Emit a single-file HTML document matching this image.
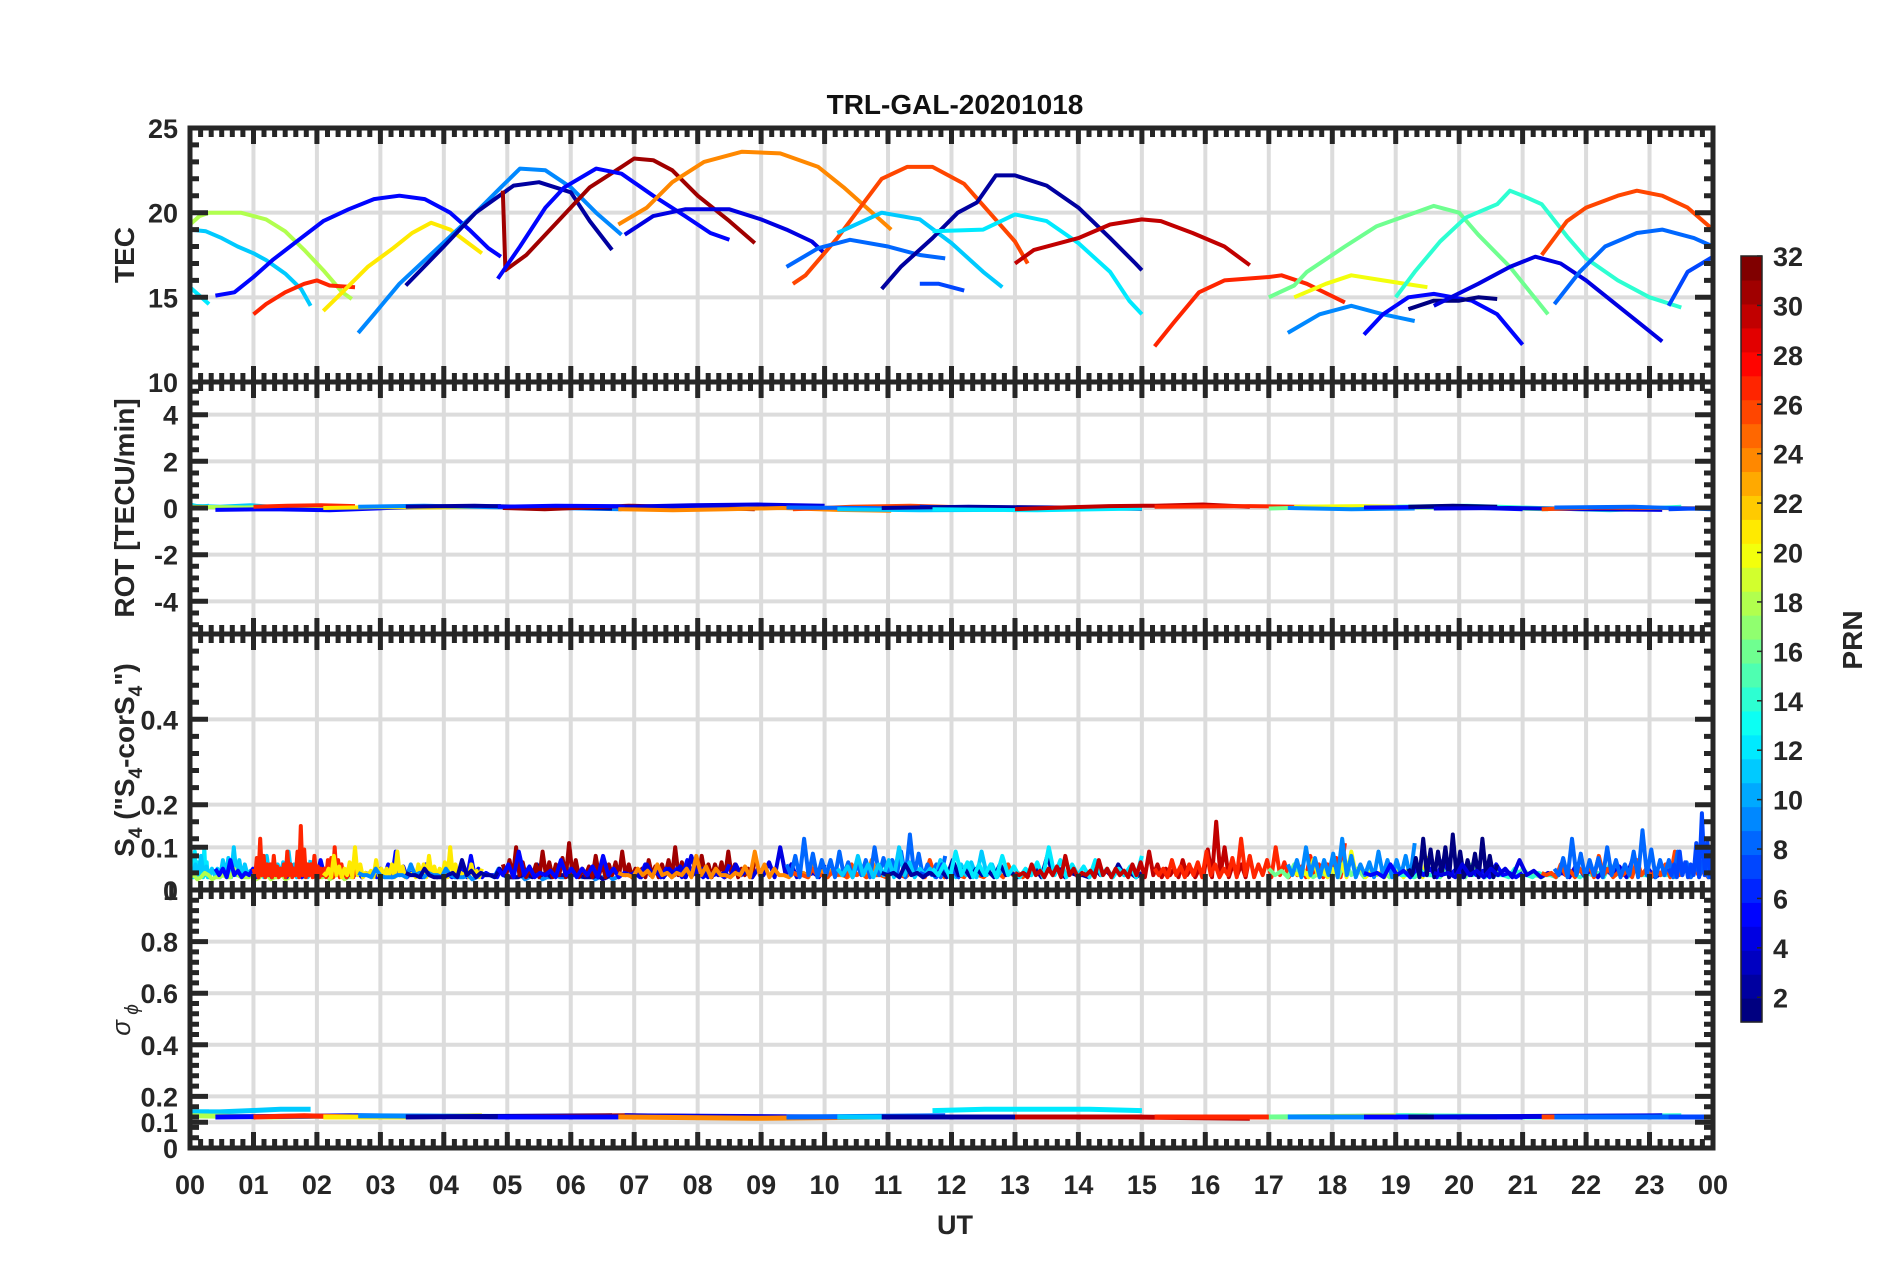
<!DOCTYPE html>
<html><head><meta charset="utf-8"><title>TRL-GAL-20201018</title>
<style>
html,body{margin:0;padding:0;background:#fff;}
svg{display:block;font-family:"Liberation Sans",Arial,sans-serif;}
</style></head>
<body>
<svg id="chart" width="1902" height="1272" viewBox="0 0 1902 1272" xmlns="http://www.w3.org/2000/svg">
<text x="955" y="114" text-anchor="middle" font-size="28" font-weight="bold" fill="#111">TRL-GAL-20201018</text>
<text x="955" y="1234" text-anchor="middle" font-size="27" font-weight="bold" fill="#262626">UT</text>
<text transform="translate(134,255) rotate(-90)" text-anchor="middle" font-size="28" font-weight="bold" fill="#262626">TEC</text>
<text transform="translate(134,508) rotate(-90)" text-anchor="middle" font-size="28" font-weight="bold" fill="#262626">ROT [TECU/min]</text>
<text transform="translate(134,760) rotate(-90)" text-anchor="middle" font-size="28" font-weight="bold" fill="#262626">S<tspan font-size="19" dy="8">4</tspan><tspan dy="-8"> ("S</tspan><tspan font-size="19" dy="8">4</tspan><tspan dy="-8">-corS</tspan><tspan font-size="19" dy="8">4</tspan><tspan dy="-8">")</tspan></text>
<text transform="translate(130,1020) rotate(-90)" text-anchor="middle" font-size="26" font-style="italic" fill="#262626">σ<tspan font-size="19" dy="8"> ϕ</tspan></text>
<text transform="translate(1862,640) rotate(-90)" text-anchor="middle" font-size="28" font-weight="bold" fill="#262626">PRN</text>
<g id="layer"></g>
</svg>
<script>
// ---- data ----
const hourLabels = ["00","01","02","03","04","05","06","07","08","09","10","11","12","13","14","15","16","17","18","19","20","21","22","23","00"];
const arcPrn = [12,11,18,5,27,21,9,2,31,5,4,24,26,8,11,7,2,12,30,27,16,20,9,14,5,1,4,26,8,7];
const tecArcs = [
 [[0,15.6],[0.15,15.1],[0.3,14.6]],
 [[0,19.0],[0.25,18.9],[0.5,18.5],[0.75,18.0],[1.0,17.6],[1.2,17.2],[1.5,16.4],[1.75,15.5],[1.9,14.5]],
 [[0,19.3],[0.15,19.8],[0.3,20.0],[0.8,20.0],[1.2,19.6],[1.5,18.9],[1.8,17.8],[2.1,16.6],[2.4,15.3],[2.55,14.9]],
 [[0.4,15.1],[0.7,15.3],[1.0,16.2],[1.3,17.2],[1.75,18.5],[2.1,19.5],[2.5,20.2],[2.9,20.8],[3.3,21.0],[3.7,20.8],[4.1,20.0],[4.4,19.0],[4.7,17.9],[4.9,17.4]],
 [[1.0,14.0],[1.2,14.6],[1.5,15.3],[1.8,15.8],[2.0,16.0],[2.2,15.7],[2.6,15.6]],
 [[2.1,14.2],[2.4,15.3],[2.8,16.8],[3.2,17.9],[3.5,18.8],[3.8,19.4],[4.1,19.0],[4.35,18.3],[4.6,17.6]],
 [[2.65,12.9],[2.9,14.0],[3.3,15.8],[3.7,17.2],[4.1,18.6],[4.5,20.0],[4.9,21.5],[5.2,22.6],[5.6,22.5],[6.0,21.5],[6.4,20.0],[6.8,18.7]],
 [[3.4,15.7],[4.0,18.0],[4.5,20.0],[5.1,21.6],[5.5,21.8],[6.0,21.2],[6.3,19.5],[6.65,17.8]],
 [[4.93,21.3],[4.97,16.6],[5.3,17.5],[5.8,19.5],[6.3,21.5],[6.8,22.7],[7.0,23.2],[7.3,23.1],[7.6,22.5],[8.0,21.0],[8.5,19.5],[8.9,18.2]],
 [[4.85,16.1],[5.2,18.0],[5.6,20.3],[5.9,21.5],[6.4,22.6],[6.8,22.3],[7.3,21.0],[7.8,19.8],[8.2,18.8],[8.5,18.4]],
 [[6.85,18.7],[7.3,19.8],[7.8,20.2],[8.5,20.2],[9.0,19.6],[9.4,19.0],[9.8,18.3],[10.0,17.6]],
 [[6.75,19.3],[7.2,20.3],[7.6,21.8],[8.1,23.0],[8.7,23.6],[9.3,23.5],[9.9,22.7],[10.3,21.5],[10.6,20.5],[11.05,19.0]],
 [[9.5,15.8],[9.7,16.3],[10.2,18.5],[10.6,20.5],[10.9,22.0],[11.3,22.7],[11.7,22.7],[12.2,21.7],[12.6,20.0],[13.0,18.3],[13.2,17.0]],
 [[9.4,16.8],[9.9,17.9],[10.4,18.4],[11.0,18.0],[11.5,17.5],[11.9,17.3]],
 [[10.2,18.8],[10.9,20.0],[11.5,19.6],[12.0,18.2],[12.5,16.5],[12.8,15.6]],
 [[11.5,15.8],[11.8,15.8],[12.2,15.4]],
 [[10.9,15.5],[11.2,16.8],[11.7,18.5],[12.1,20.0],[12.4,20.6],[12.7,22.2],[13.0,22.2],[13.5,21.6],[14.0,20.3],[14.5,18.5],[14.9,17.0],[15.0,16.6]],
 [[11.7,18.9],[12.5,19.0],[13.0,19.9],[13.5,19.5],[14.0,18.2],[14.5,16.5],[14.8,14.8],[15.0,14.0]],
 [[13.0,17.0],[13.3,17.8],[14.0,18.5],[14.5,19.3],[15.0,19.6],[15.3,19.5],[15.8,18.8],[16.3,18.0],[16.7,16.9]],
 [[15.2,12.1],[15.5,13.5],[15.9,15.3],[16.3,16.0],[17.0,16.2],[17.2,16.3],[17.6,15.8],[18.2,14.7]],
 [[17.0,15.0],[17.4,15.7],[17.6,16.5],[18.2,18.0],[18.7,19.2],[19.3,20.0],[19.6,20.4],[20.0,20.0],[20.3,18.7],[20.8,16.8],[21.4,14.0]],
 [[17.4,15.0],[17.9,15.8],[18.3,16.3],[18.8,16.0],[19.5,15.6]],
 [[17.3,12.9],[17.8,14.0],[18.3,14.5],[18.8,14.0],[19.3,13.6]],
 [[19.0,15.0],[19.3,16.5],[19.7,18.3],[20.1,19.7],[20.6,20.5],[20.8,21.3],[21.0,21.0],[21.3,20.5],[21.7,18.6],[22.0,17.3],[22.5,16.0],[23.0,15.0],[23.5,14.4]],
 [[18.5,12.8],[18.8,14.0],[19.2,15.0],[19.6,15.2],[20.2,14.8],[20.6,14.0],[21.0,12.2]],
 [[19.2,14.3],[19.6,14.8],[20.0,14.8],[20.3,15.0],[20.6,14.9]],
 [[19.6,14.5],[20.3,15.8],[20.8,16.8],[21.2,17.4],[21.6,17.0],[22.0,16.0],[22.5,14.5],[23.0,13.0],[23.2,12.4]],
 [[21.3,17.5],[21.7,19.5],[22.0,20.3],[22.5,21.0],[22.8,21.3],[23.2,21.0],[23.6,20.3],[24,19.0]],
 [[21.5,14.6],[21.9,16.5],[22.3,18.0],[22.8,18.8],[23.2,19.0],[23.7,18.5],[24,18.0]],
 [[23.3,14.5],[23.6,16.5],[24,17.4]]
];
const rotArcs = [
 [0.15,0.05,0.1],[0.1,0.05,0.12,0.02,0.08],[0.05,0.02,0.06,0.03],[-0.08,-0.05,-0.1,0.0,0.05,0.08],
 [0.05,0.1,0.12,0.08],[0.0,0.04,0.02,0.05],[0.05,0.1,0.04,0.0,-0.05],[0.06,0.1,0.03,-0.02],
 [0.0,-0.05,0.02,0.1,0.05,0.0,-0.05],[0.05,0.1,0.08,0.0,-0.03],[0.05,0.12,0.15,0.1],[-0.05,-0.1,-0.05,0.0,-0.08,-0.12],
 [-0.05,0.05,0.1,0.02,-0.02],[0.02,0.0,-0.05],[-0.05,-0.1,-0.08],[0.05,0.0],[0.0,0.05,0.02,-0.04],[-0.05,-0.1,-0.02],
 [-0.05,0.02,0.08,0.1,0.15,0.05],[0.05,0.08,0.02],[-0.02,0.05,0.02,0.0,-0.05],[0.05,0.08,0.04],[0.0,-0.05,-0.02],
 [0.05,0.1,0.0,-0.1,0.05],[0.02,0.05,-0.05],[0.05,0.1,0.05],[-0.02,0.0,-0.05,-0.08],[-0.05,0.02,0.0,-0.02],[0.02,0.05,-0.05],[-0.05,0.0]
];
const s4Arcs = [
 [0.07,0.09,0.06,0.1,0.05],
 [0.06,0.08,0.05,0.07,0.1,0.06,0.05,0.08,0.06,0.09,0.05,0.07],
 [0.03,0.04,0.03,0.05,0.03,0.04,0.03,0.04,0.05,0.03,0.04,0.03],
 [0.05,0.07,0.04,0.08,0.05,0.06,0.04,0.07,0.05,0.06,0.04,0.05,0.09,0.04,0.06,0.04,0.05,0.08,0.04,0.05],
 [0.05,0.12,0.06,0.08,0.05,0.09,0.05,0.15,0.06,0.08,0.05,0.07,0.1,0.06,0.05,0.08],
 [0.04,0.08,0.05,0.1,0.04,0.07,0.05,0.09,0.04,0.06,0.08,0.05,0.1,0.04,0.06,0.05],
 [0.04,0.05,0.03,0.06,0.04,0.05,0.03,0.04,0.05,0.03,0.04,0.03,0.05,0.04,0.03,0.04],
 [0.04,0.05,0.03,0.07,0.04,0.05,0.03,0.06,0.04,0.05,0.03,0.04],
 [0.06,0.1,0.05,0.09,0.06,0.11,0.05,0.08,0.06,0.09,0.05,0.07,0.06,0.1,0.05,0.08,0.06,0.09,0.05,0.07],
 [0.05,0.09,0.04,0.07,0.05,0.08,0.04,0.06,0.05,0.07,0.04,0.06],
 [0.04,0.06,0.05,0.08,0.04,0.06,0.05,0.1,0.04,0.06],
 [0.04,0.05,0.06,0.04,0.08,0.05,0.04,0.09,0.05,0.04,0.06,0.05,0.04,0.07,0.04],
 [0.04,0.05,0.04,0.06,0.04,0.05,0.04,0.07,0.04,0.05,0.04,0.06,0.04],
 [0.06,0.12,0.07,0.09,0.06,0.1,0.07,0.13,0.06,0.08],
 [0.05,0.08,0.06,0.1,0.05,0.07,0.06,0.09,0.05],
 [0.04,0.06,0.05],
 [0.04,0.06,0.04,0.07,0.05,0.06,0.04,0.08,0.04,0.05,0.06,0.04],
 [0.05,0.09,0.06,0.08,0.05,0.1,0.06,0.07,0.05,0.08],
 [0.04,0.06,0.05,0.08,0.04,0.07,0.05,0.06,0.09,0.05,0.07,0.05,0.16,0.06,0.08],
 [0.05,0.07,0.06,0.09,0.05,0.12,0.06,0.1,0.05,0.08,0.06,0.11],
 [0.05,0.06,0.04,0.07,0.05,0.06,0.04,0.05,0.06,0.04,0.05,0.04],
 [0.04,0.07,0.05,0.09,0.04,0.06,0.05,0.08],
 [0.06,0.1,0.07,0.12,0.06,0.09,0.07,0.11],
 [0.04,0.05,0.04,0.06,0.04,0.05,0.04,0.05,0.04,0.06,0.05,0.04,0.05],
 [0.04,0.06,0.05,0.07,0.05,0.06,0.04],
 [0.05,0.12,0.09,0.13,0.07,0.12,0.06],
 [0.04,0.06,0.05,0.07,0.04,0.06,0.05,0.08,0.04],
 [0.04,0.06,0.05,0.08,0.04,0.07,0.05,0.09,0.05,0.06],
 [0.05,0.12,0.07,0.1,0.06,0.14,0.07,0.09,0.06,0.11],
 [0.05,0.09,0.06,0.18,0.07]
];
const sigArcs = [
 [0.14,0.14],[0.14,0.14,0.145,0.15,0.15],[0.125,0.12,0.125],[0.12,0.125,0.12],[0.12,0.125,0.12],[0.12,0.12,0.125],
 [0.125,0.12],[0.12,0.125],[0.12,0.125,0.12],[0.12,0.12],[0.125,0.12],[0.12,0.115,0.12],[0.12,0.12],[0.12,0.125],
 [0.12,0.12],[0.12,0.12],[0.12,0.12],[0.145,0.15,0.15,0.15,0.145],[0.12,0.12,0.115],[0.12,0.12],[0.12,0.125,0.12],
 [0.12,0.125],[0.12,0.12],[0.125,0.12,0.125],[0.12,0.12],[0.12,0.12],[0.12,0.125],[0.12,0.12,0.12],[0.12,0.12],[0.12,0.12]
];
const cbTicks = [2,4,6,8,10,12,14,16,18,20,22,24,26,28,30,32];
const tecTicks = [25,20,15,10];
const rotTicks = [4,2,0,-2,-4];
const s4Ticks = [0.4,0.2,0.1,0];
const sigTicks = [1,0.8,0.6,0.4,0.2,0.1,0];

// ---- layout ----
const NS = "http://www.w3.org/2000/svg";
const layer = document.getElementById('layer');
const X0 = 190, X1 = 1713;
const xs = h => X0 + (X1 - X0) * h / 24;
const panels = [
 {name:'tec', top:128, bot:382, min:10, max:25, ticks:tecTicks, minor:1, labels:["25","20","15","10"]},
 {name:'rot', top:382, bot:634, min:-5.4, max:5.4, ticks:rotTicks, minor:0.5, labels:["4","2","0","-2","-4"]},
 {name:'s4', top:634, bot:890, min:0, max:0.6, ticks:s4Ticks, minor:0.04, labels:["0.4","0.2","0.1","0"]},
 {name:'sigma', top:890, bot:1148, min:0, max:1, ticks:sigTicks, minor:0.04, labels:["1","0.8","0.6","0.4","0.2","0.1","0"]}
];
panels.forEach(p => { p.ys = v => p.bot - (p.bot - p.top) * (v - p.min) / (p.max - p.min); });

function jet(prn){
  const v = (prn - 1) / 31;
  const f = t => Math.max(0, Math.min(1, t));
  const r = f(Math.min(4*v - 1.5, -4*v + 4.5));
  const g = f(Math.min(4*v - 0.5, -4*v + 3.5));
  const b = f(Math.min(4*v + 0.5, -4*v + 2.5));
  return `rgb(${Math.round(r*255)},${Math.round(g*255)},${Math.round(b*255)})`;
}
function mk(tag, attrs, parent){
  const e = document.createElementNS(NS, tag);
  for (const k in attrs) e.setAttribute(k, attrs[k]);
  (parent || layer).appendChild(e);
  return e;
}
const AX = '#262626';

panels.forEach(p => {
  const g = mk('g', {});
  
  
  for (let h = 1; h < 24; h++) {
    const l = mk('line', {x1:xs(h), x2:xs(h), y1:p.top, y2:p.bot, stroke:'#dcdcdc', 'stroke-width':4}, g);
    
    
  }
  p.ticks.forEach(t => {
    if (t === p.min || t === p.max) return;
    const l = mk('line', {x1:X0, x2:X1, y1:p.ys(t), y2:p.ys(t), stroke:'#dcdcdc', 'stroke-width':4}, g);
    
    
  });
});

const tecP = panels[0], rotP = panels[1], s4P = panels[2], sigP = panels[3];
tecArcs.forEach((arc, i) => {
  const col = jet(arcPrn[i]);
  const h0 = arc[0][0], h1 = arc[arc.length-1][0];
  const pts = arc.map(d => xs(d[0]).toFixed(1) + ',' + tecP.ys(d[1]).toFixed(1)).join(' ');
  const l = mk('polyline', {points:pts, fill:'none', stroke:col, 'stroke-width':4, 'stroke-linejoin':'round'});
  
  
  const along = vals => vals.map((v, k) => [h0 + (h1 - h0) * (vals.length > 1 ? k / (vals.length - 1) : 0), v]);
  const rp = along(rotArcs[i]).map(d => xs(d[0]).toFixed(1) + ',' + rotP.ys(d[1]).toFixed(1)).join(' ');
  const r = mk('polyline', {points:rp, fill:'none', stroke:col, 'stroke-width':4});
  
  
  // S4: spiky trace — each value as a peak, with a trough drawn between peaks
  const sv = along(s4Arcs[i]);
  const sp = [];
  sv.forEach((d, k) => {
    sp.push(xs(d[0]).toFixed(1) + ',' + s4P.ys(d[1]).toFixed(1));
    if (k < sv.length - 1) {
      const hm = (d[0] + sv[k+1][0]) / 2;
      const hq1 = (3*d[0] + sv[k+1][0]) / 4, hq3 = (d[0] + 3*sv[k+1][0]) / 4;
      sp.push(xs(hq1).toFixed(1) + ',' + s4P.ys(0.035).toFixed(1));
      sp.push(xs(hm).toFixed(1) + ',' + s4P.ys((d[1] + sv[k+1][1]) / 2 - 0.01).toFixed(1));
      sp.push(xs(hq3).toFixed(1) + ',' + s4P.ys(0.03).toFixed(1));
    }
  });
  const s = mk('polyline', {points:sp.join(' '), fill:'none', stroke:col, 'stroke-width':4, 'stroke-linejoin':'round'});
  
  
  const gp = along(sigArcs[i]).map(d => xs(d[0]).toFixed(1) + ',' + sigP.ys(d[1]).toFixed(1)).join(' ');
  const q = mk('polyline', {points:gp, fill:'none', stroke:col, 'stroke-width':5});
  
  
});

panels.forEach(p => {
  const g = mk('g', {});
  
  
  const fr = mk('rect', {x:X0, y:p.top, width:X1-X0, height:p.bot-p.top, fill:'none', stroke:AX, 'stroke-width':5}, g);
  
  
  let d = '';
  for (let m = 0; m <= 24*6; m++) {
    const x = xs(m/6).toFixed(1);
    const L = (m % 6 === 0) ? 16 : 9;
    d += `M${x},${p.top}v${L}M${x},${p.bot}v${-L}`;
  }
  const start = Math.ceil(p.min / p.minor - 1e-6);
  for (let k = start; k * p.minor <= p.max + 1e-9; k++) {
    const y = p.ys(k * p.minor).toFixed(1);
    d += `M${X0},${y}h9M${X1},${y}h-9`;
  }
  p.ticks.forEach(t => { const y = p.ys(t).toFixed(1); d += `M${X0},${y}h18M${X1},${y}h-18`; });
  const tk = mk('path', {d:d, stroke:AX, 'stroke-width':5, fill:'none'}, g);
  
  
  p.ticks.forEach((t, k) => {
    const tx = mk('text', {x:178, y:p.ys(t) + 10, 'text-anchor':'end', 'font-size':27, 'font-weight':'bold', fill:AX}, g);
    tx.textContent = p.labels[k];
    
    
  });
});
hourLabels.forEach((lab, h) => {
  const t = mk('text', {x:xs(h), y:1194, 'text-anchor':'middle', 'font-size':27, 'font-weight':'bold', fill:AX});
  t.textContent = lab;
  
  
});

const CB = {x:1741, w:21, top:256, bot:1022, min:1, max:32};
const cys = v => CB.bot - (CB.bot - CB.top) * (v - CB.min) / (CB.max - CB.min);
const cbg = mk('g', {});


const stripeH = (CB.bot - CB.top) / 32;
for (let k = 1; k <= 32; k++) {
  const r = mk('rect', {x:CB.x, y:CB.bot - k*stripeH, width:CB.w, height:stripeH + 0.6, fill:jet(k)}, cbg);
  
  
}
const cbf = mk('rect', {x:CB.x, y:CB.top, width:CB.w, height:CB.bot-CB.top, fill:'none', stroke:AX, 'stroke-width':1.5}, cbg);


cbTicks.forEach(v => {
  const y = cys(v);
  const l = mk('line', {x1:CB.x+CB.w-5, x2:CB.x+CB.w, y1:y, y2:y, stroke:AX, 'stroke-width':1.5}, cbg);
  
  
  const t = mk('text', {x:1773, y:y + 10, 'font-size':27, 'font-weight':'bold', fill:AX}, cbg);
  t.textContent = String(v);
  
  
});
</script>
</body></html>
